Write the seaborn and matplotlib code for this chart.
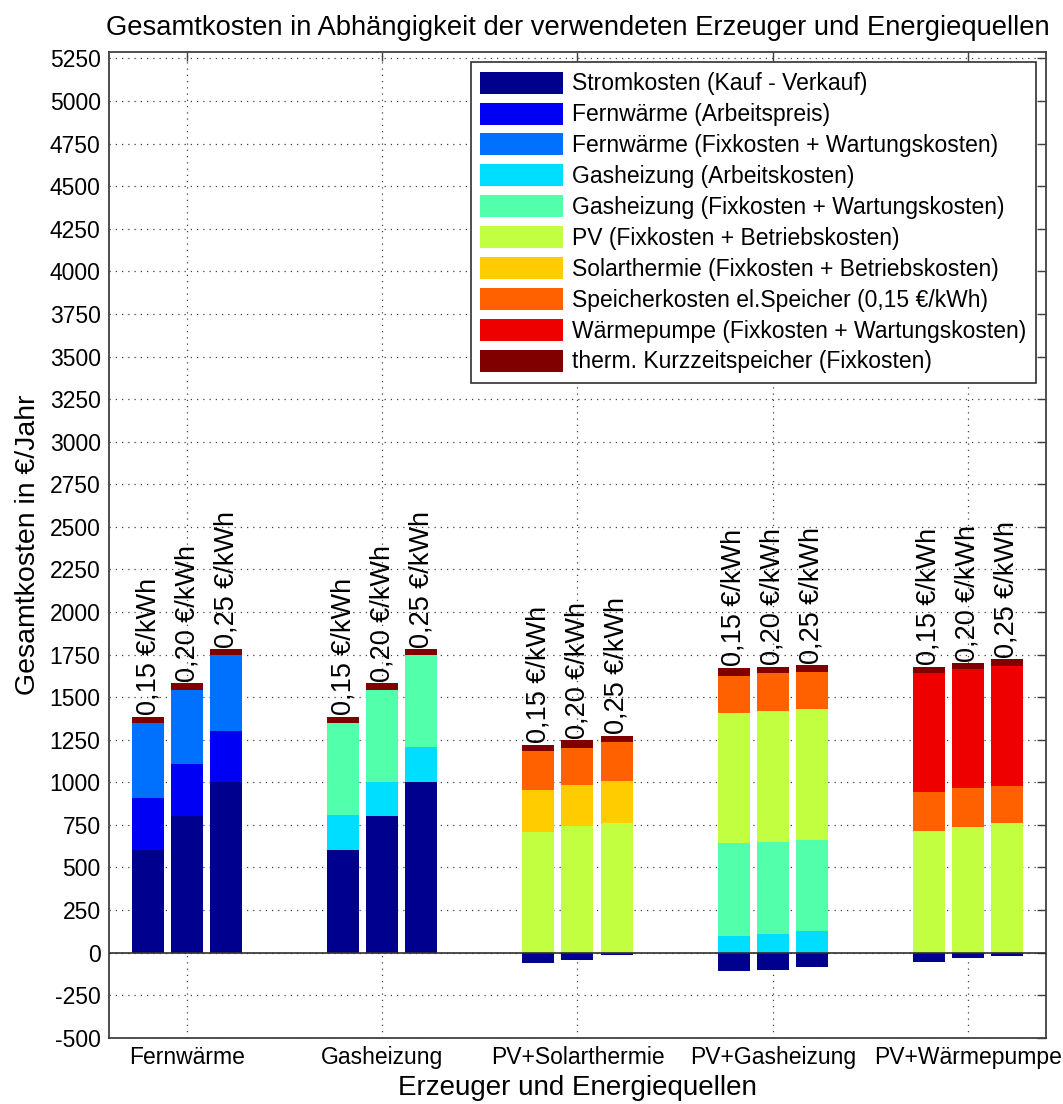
import seaborn as sns
import matplotlib.pyplot as plt
import matplotlib.patches as mpatches
import pandas as pd
import numpy as np

# Kategorien
gruppen = ["Fernwärme", "Gasheizung", "PV+Solarthermie", "PV+Gasheizung", "PV+Wärmepumpe"]
preise = ["0,15 €/kWh", "0,20 €/kWh", "0,25 €/kWh"]

# Kostenanteile je Gruppe (Zeilen) und Strompreis (Spalten), in €/Jahr
stromkosten = [[600, 800, 1000], [600, 800, 1000], [-63, -42, -12], [-110, -100, -87], [-57, -34, -18]]
fw_arbeit = [[306, 308, 303], [0, 0, 0], [0, 0, 0], [0, 0, 0], [0, 0, 0]]
fw_fix = [[442, 434, 445], [0, 0, 0], [0, 0, 0], [0, 0, 0], [0, 0, 0]]
gas_arbeit = [[0, 0, 0], [206, 204, 205], [0, 0, 0], [99, 111, 125], [0, 0, 0]]
gas_fix = [[0, 0, 0], [542, 538, 543], [0, 0, 0], [542, 540, 534], [0, 0, 0]]
pv = [[0, 0, 0], [0, 0, 0], [710, 741, 763], [768, 766, 772], [716, 739, 763]]
solarthermie = [[0, 0, 0], [0, 0, 0], [247, 245, 245], [0, 0, 0], [0, 0, 0]]
speicher = [[0, 0, 0], [0, 0, 0], [225, 217, 227], [217, 223, 217], [225, 226, 217]]
waermepumpe = [[0, 0, 0], [0, 0, 0], [0, 0, 0], [0, 0, 0], [701, 698, 701]]
kurzzeitspeicher = [[37, 39, 35], [37, 39, 35], [39, 44, 39], [46, 39, 39], [37, 38, 41]]

komponenten = [
    ("Stromkosten (Kauf - Verkauf)", stromkosten, "#00008f"),
    ("Fernwärme (Arbeitspreis)", fw_arbeit, "#0000f5"),
    ("Fernwärme (Fixkosten + Wartungskosten)", fw_fix, "#0070ff"),
    ("Gasheizung (Arbeitskosten)", gas_arbeit, "#00deff"),
    ("Gasheizung (Fixkosten + Wartungskosten)", gas_fix, "#52ffaa"),
    ("PV (Fixkosten + Betriebskosten)", pv, "#c2ff40"),
    ("Solarthermie (Fixkosten + Betriebskosten)", solarthermie, "#ffcc00"),
    ("Speicherkosten el.Speicher (0,15 €/kWh)", speicher, "#ff6000"),
    ("Wärmepumpe (Fixkosten + Wartungskosten)", waermepumpe, "#ee0000"),
    ("therm. Kurzzeitspeicher (Fixkosten)", kurzzeitspeicher, "#800000"),
]

sns.set_style("white")
plt.rcParams['font.family'] = ['Liberation Sans', 'DejaVu Sans']
plt.rcParams['axes.unicode_minus'] = False
plt.rcParams['text.color'] = 'black'
plt.rcParams['axes.labelcolor'] = 'black'
plt.rcParams['xtick.labelcolor'] = 'black'
plt.rcParams['ytick.labelcolor'] = 'black'

fig = plt.figure(figsize=(10.63, 11.04), dpi=100)
ax = fig.add_axes([0.1025, 0.0600, 0.8815, 0.8932])

# gestapelte Balken: kumulierte positive Anteile von oben nach unten übereinander zeichnen
werte = np.array([k[1] for k in komponenten], dtype=float)  # (10, 5, 3)
kumuliert = np.cumsum(np.clip(werte, 0, None), axis=0)

label_container = None
for i in range(len(komponenten) - 1, -1, -1):
    name, _, farbe = komponenten[i]
    hoehe = werte[0] if i == 0 else kumuliert[i]
    df = pd.DataFrame({
        "gruppe": np.repeat(gruppen, len(preise)),
        "preis": preise * len(gruppen),
        "wert": hoehe.ravel(),
    })
    n_vorher = len(ax.containers)
    sns.barplot(data=df, x="gruppe", y="wert", hue="preis", order=gruppen, hue_order=preise,
                palette={p: farbe for p in preise}, width=0.6, gap=0.18,
                saturation=1, linewidth=0, errorbar=None, legend=False, ax=ax)
    if label_container is None:
        label_container = ax.containers[n_vorher:]

# Preisbeschriftung über den Balken
for cont, preis in zip(label_container, preise):
    ax.bar_label(cont, labels=[preis] * len(gruppen), rotation=90, padding=1, fontsize=19.5)

ax.set_xlim(-0.4, 4.4)
ax.set_ylim(-500, 5290)
ax.set_yticks(np.arange(-500, 5251, 250))
ax.axhline(0, color="#303030", linewidth=1.2, zorder=3)

ax.grid(True, linestyle=(0, (1, 4)), color="#404040", linewidth=0.9)
ax.set_axisbelow(True)
ax.tick_params(direction="in", length=6.5, width=1, top=True, right=True,
               labelsize=16.5, pad=6, color="#404040")
for s in ax.spines.values():
    s.set_color("#404040")
    s.set_linewidth(1.3)

ax.set_xlabel("Erzeuger und Energiequellen", fontsize=20, labelpad=4)
ax.set_ylabel("Gesamtkosten in €/Jahr", fontsize=20.5, labelpad=6)
ax.set_title("Gesamtkosten in Abhängigkeit der verwendeten Erzeuger und Energiequellen",
             fontsize=19.7, pad=12)

handles = [mpatches.Patch(facecolor=k[2], edgecolor="none", label=k[0]) for k in komponenten]
leg = ax.legend(handles=handles, loc="upper right", fontsize=16.5, handlelength=3.6,
                handleheight=1.1, labelspacing=0.31, handletextpad=0.4, borderpad=0.42,
                borderaxespad=0.45, fancybox=False, framealpha=1, edgecolor="#303030")
leg.get_frame().set_linewidth(1.2)

fig.savefig("out.png", dpi=100)
